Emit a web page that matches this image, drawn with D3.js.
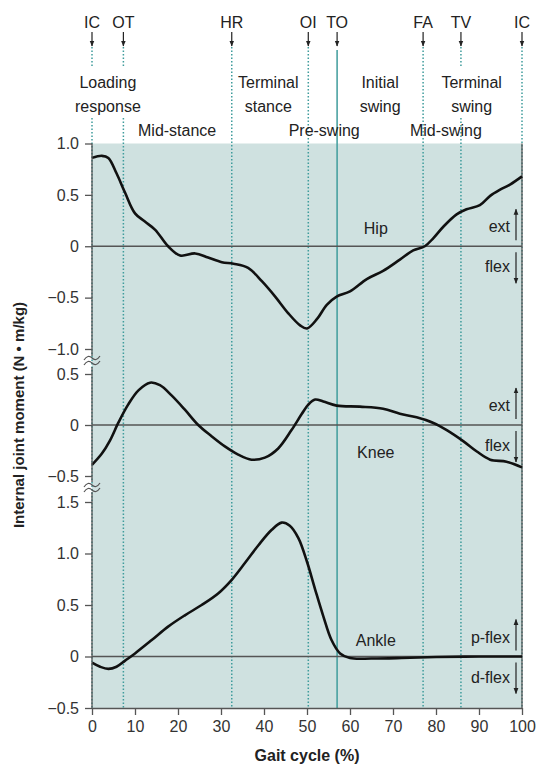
<!DOCTYPE html>
<html>
<head>
<meta charset="utf-8">
<script src="https://cdn.jsdelivr.net/npm/d3@7"></script>
<style>
  body { margin: 0; background: #fff; }
  svg { display: block; font-family: "Liberation Sans", Arial, sans-serif; }
</style>
</head>
<body>
<div id="chart"></div>
<script>
// gait events (% of cycle)
const eventNames = ["IC", "OT", "HR", "OI", "TO", "FA", "TV", "IC"];
const eventPct = [0, 7.3, 32.5, 50.3, 57, 77, 85.8, 100];

// phase labels: [text lines, centre %, row]
const phaseNames = [["Loading", "response"], ["Mid-stance"], ["Terminal", "stance"], ["Pre-swing"],
  ["Initial", "swing"], ["Mid-swing"], ["Terminal", "swing"]];
const phaseCenter = [3.7, 19.8, 41, 54, 67, 82.3, 88.3];
const phaseRow = [0, 1, 0, 1, 0, 1, 0];

const xTicks = [0, 10, 20, 30, 40, 50, 60, 70, 80, 90, 100];
const hipTicks = [1.0, 0.5, 0, -0.5, -1.0];
const kneeTicks = [0.5, 0, -0.5];
const ankleTicks = [1.5, 1.0, 0.5, 0, -0.5];

// moments, N·m/kg: [gait %, value]
const hip = [[0, 0.86], [2.3, 0.88], [3.8, 0.86], [5.7, 0.71], [7.7, 0.52], [10, 0.32], [12.3, 0.24],
  [14.7, 0.16], [17.7, 0.0], [20.5, -0.09], [24, -0.07], [27, -0.11], [30.2, -0.155], [32.9, -0.17],
  [36.3, -0.21], [39.5, -0.34], [42.6, -0.49], [45.6, -0.65], [48.4, -0.77], [50, -0.8], [52.3, -0.71],
  [54.6, -0.57], [56.9, -0.49], [60, -0.44], [63.9, -0.32], [67.7, -0.24], [71.6, -0.13], [74.7, -0.04],
  [77.4, 0.0], [79.4, 0.08], [81.7, 0.19], [84.8, 0.31], [87.1, 0.36], [90.2, 0.40], [92.6, 0.49],
  [94.9, 0.55], [97.2, 0.60], [100, 0.68]];
const knee = [[0, -0.39], [2.3, -0.28], [4.2, -0.15], [6.1, 0.02], [8.4, 0.2], [10.8, 0.34], [13.5, 0.415],
  [15.8, 0.39], [18.5, 0.29], [21.6, 0.15], [24.7, 0.0], [27.8, -0.11], [30.9, -0.21], [34, -0.29],
  [37.1, -0.34], [40.2, -0.32], [43.3, -0.23], [46.4, -0.05], [48.8, 0.11], [50.3, 0.2], [51.9, 0.25],
  [53.8, 0.23], [56.9, 0.19], [62.3, 0.18], [67.7, 0.16], [71.6, 0.11], [75.5, 0.075], [79.4, 0.02],
  [82.5, -0.05], [86.4, -0.16], [89.5, -0.26], [92.6, -0.34], [96.4, -0.36], [100, -0.415]];
const ankle = [[0, -0.06], [1.9, -0.1], [3.8, -0.12], [5.7, -0.1], [7.7, -0.04], [10, 0.03], [13.9, 0.16],
  [17.7, 0.29], [21.6, 0.4], [25.5, 0.5], [29.4, 0.615], [32.5, 0.745], [35.6, 0.91], [38.7, 1.08],
  [41.8, 1.23], [44.1, 1.3], [46, 1.27], [48, 1.15], [50, 0.92], [51.9, 0.65], [53.8, 0.39], [55.7, 0.16],
  [57.7, 0.03], [60, -0.015], [65, -0.02], [72, -0.015], [80, -0.005], [90, 0.0], [100, 0.0]];

const width = 538, height = 765;
const pLeft = 92, pRight = 522, pTop = 143.5, pBottom = 708;
const shade = "#cfe1e0", teal = "#3f9c9c", axisCol = "#555", txt = "#222";

const svg = d3.select("#chart").append("svg")
  .attr("width", width).attr("height", height);

const defs = svg.append("defs");
defs.append("marker").attr("id", "ah")
  .attr("viewBox", "0 0 10 10").attr("refX", 9).attr("refY", 5)
  .attr("markerWidth", 5).attr("markerHeight", 5).attr("orient", "auto")
  .append("path").attr("d", "M0,1L10,5L0,9Z").attr("fill", txt);

const x = d3.scaleLinear().domain([0, 100]).range([pLeft, pRight]);
const yHip = d3.scaleLinear().domain([-1, 1]).range([349, pTop]);
const yKnee = d3.scaleLinear().domain([-0.5, 0.5]).range([476, 374]);
const yAnkle = d3.scaleLinear().domain([-0.5, 1.5]).range([pBottom, 502]);

svg.append("rect").attr("x", pLeft).attr("y", pTop)
  .attr("width", pRight - pLeft).attr("height", pBottom - pTop).attr("fill", shade);

// vertical event lines (gaps where the phase text sits)
const lineGaps = { 0: [[47, 67], [118, pBottom]], 1: [[47, 67], [118, pBottom]], 6: [[47, 67], [118, pBottom]] };
eventPct.forEach((p, i) => {
  if (eventNames[i] === "TO") {
    svg.append("line").attr("x1", x(p)).attr("x2", x(p)).attr("y1", 50).attr("y2", pBottom)
      .attr("stroke", teal).attr("stroke-width", 1.5);
    return;
  }
  const segs = lineGaps[i] || [[47, pBottom]];
  segs.forEach(s => {
    svg.append("line").attr("x1", x(p)).attr("x2", x(p)).attr("y1", s[0]).attr("y2", s[1])
      .attr("stroke", teal).attr("stroke-width", 1.5).attr("stroke-dasharray", "1.5,2");
  });
});

// event names and arrows
eventPct.forEach((p, i) => {
  svg.append("text").attr("x", x(p)).attr("y", 28).attr("text-anchor", "middle")
    .attr("font-size", 16).attr("fill", txt).text(eventNames[i]);
  svg.append("line").attr("x1", x(p)).attr("x2", x(p)).attr("y1", 32).attr("y2", 46)
    .attr("stroke", txt).attr("stroke-width", 1.2).attr("marker-end", "url(#ah)");
});

// phase labels
phaseNames.forEach((lines, i) => {
  const t = svg.append("text").attr("text-anchor", "middle").attr("font-size", 16).attr("fill", txt);
  lines.forEach((l, j) => {
    t.append("tspan").attr("x", x(phaseCenter[i]))
      .attr("y", phaseRow[i] === 1 ? 136 : 88 + j * 24).text(l);
  });
});

// zero lines and right border
[yHip(0), yKnee(0), yAnkle(0)].forEach(yy => {
  svg.append("line").attr("x1", pLeft).attr("x2", pRight).attr("y1", yy).attr("y2", yy)
    .attr("stroke", axisCol).attr("stroke-width", 1.3);
});
svg.append("line").attr("x1", pRight).attr("x2", pRight).attr("y1", pTop).attr("y2", pBottom)
  .attr("stroke", axisCol).attr("stroke-width", 1.3);

// curves
const line = d3.line().curve(d3.curveCatmullRom.alpha(0.5));
[[hip, yHip], [knee, yKnee], [ankle, yAnkle]].forEach(([data, y]) => {
  svg.append("path").attr("d", line.x(d => x(d[0])).y(d => y(d[1]))(data))
    .attr("fill", "none").attr("stroke", "#111").attr("stroke-width", 2.6);
});

// curve names
[["Hip", yHip(0.12)], ["Knee", yKnee(-0.32)], ["Ankle", yAnkle(0.1)]].forEach(([n, yy]) => {
  svg.append("text").attr("x", x(66)).attr("y", yy).attr("text-anchor", "middle")
    .attr("font-size", 16).attr("fill", txt).text(n);
});

// direction labels on the right
const dirs = [["ext", yHip(0), -1], ["flex", yHip(0), 1], ["ext", yKnee(0), -1], ["flex", yKnee(0), 1],
  ["p-flex", yAnkle(0), -1], ["d-flex", yAnkle(0), 1]];
dirs.forEach(([n, y0, s]) => {
  const a = y0 + s * 6, b = y0 + s * 37;
  svg.append("line").attr("x1", 516).attr("x2", 516).attr("y1", a).attr("y2", b)
    .attr("stroke", txt).attr("stroke-width", 1.2).attr("marker-end", "url(#ah)");
  svg.append("text").attr("x", 510).attr("y", y0 + s * 20 + 6).attr("text-anchor", "end")
    .attr("font-size", 16).attr("fill", txt).text(n);
});

// y axes
const fmt = d => d === 0 ? "0" : (d < 0 ? "\u2212" : "") + Math.abs(d).toFixed(1);
[[yHip, hipTicks], [yKnee, kneeTicks], [yAnkle, ankleTicks]].forEach(([y, t]) => {
  const g = svg.append("g").attr("transform", `translate(${pLeft},0)`)
    .call(d3.axisLeft(y).tickValues(t).tickFormat(fmt).tickSize(7).tickPadding(6));
  g.select(".domain").remove();
  g.selectAll("line").attr("stroke", axisCol).attr("stroke-width", 1.3);
  g.selectAll("text").attr("font-size", 16).attr("fill", "#333")
    .attr("font-family", "Liberation Sans, Arial, sans-serif");
});
[[pTop, 356], [367, 482], [492, pBottom]].forEach(s => {
  svg.append("line").attr("x1", pLeft).attr("x2", pLeft).attr("y1", s[0]).attr("y2", s[1])
    .attr("stroke", axisCol).attr("stroke-width", 1.3);
});
// axis breaks
[358, 485].forEach(yy => {
  [0, 5].forEach(off => {
    svg.append("path")
      .attr("d", `M${pLeft - 8},${yy + off + 2} q4,-6 8,-2 t8,-2`)
      .attr("fill", "none").attr("stroke", axisCol).attr("stroke-width", 1.2);
  });
});

// x axis
const gx = svg.append("g").attr("transform", `translate(0,${pBottom})`)
  .call(d3.axisBottom(x).tickValues(xTicks).tickSize(7).tickSizeOuter(0).tickPadding(6));
gx.selectAll("line,path").attr("stroke", axisCol).attr("stroke-width", 1.3);
gx.selectAll("text").attr("font-size", 16).attr("fill", "#333")
  .attr("font-family", "Liberation Sans, Arial, sans-serif");

svg.append("text").attr("x", x(50)).attr("y", 761).attr("text-anchor", "middle")
  .attr("font-size", 16).attr("font-weight", "bold").attr("fill", txt).text("Gait cycle (%)");
svg.append("text").attr("transform", "translate(24,415) rotate(-90)").attr("text-anchor", "middle")
  .attr("font-size", 15).attr("font-weight", "bold").attr("fill", txt)
  .text("Internal joint moment (N \u2022 m/kg)");
</script>
</body>
</html>
